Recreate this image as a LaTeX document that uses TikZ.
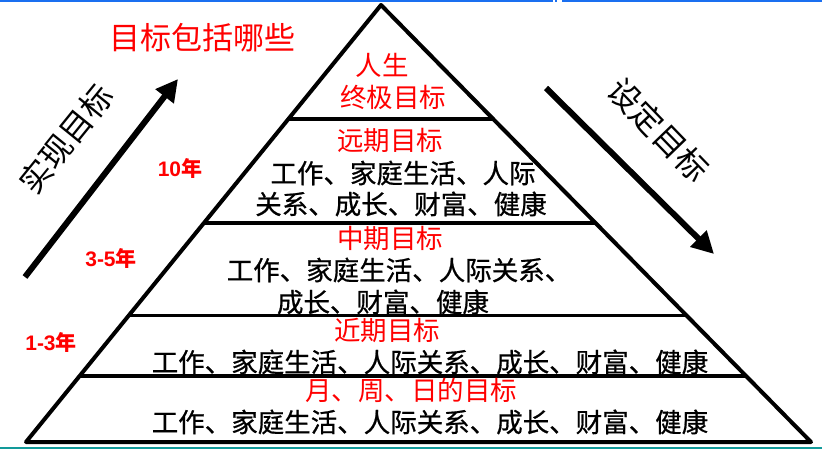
\documentclass[tikz,border=0pt]{standalone}
\usepackage{fontspec}
\setmainfont{Liberation Sans}
\newfontfamily\cjk{Noto Sans CJK SC}
\newfontfamily\cjkh[FakeBold=0.7]{Noto Sans CJK SC}
\usetikzlibrary{arrows.meta,calc}
\definecolor{goalred}{HTML}{FF0000}
\definecolor{slideblue}{HTML}{1A6FF0}
\definecolor{slideteal}{HTML}{129A9A}

\begin{document}
\begin{tikzpicture}[x=1pt,y=-1pt,>=Latex]
\tikzset{
title/.style={font=\cjk\fontsize{31}{31}\selectfont,text=goalred,inner sep=0pt},
tier/.style={font=\cjk\fontsize{26.5}{26.5}\selectfont,text=goalred,inner sep=0pt},
body/.style={font=\cjkh\fontsize{26.5}{26.5}\selectfont,inner sep=0pt},
years/.style={font=\fontsize{21}{21}\selectfont\bfseries,text=goalred,inner sep=0pt},
side/.style={font=\cjk\fontsize{32}{32}\selectfont,inner sep=0pt},
edge/.style={line width=4pt,line cap=round,line join=round},
big/.style={->,line width=6pt,>={Triangle[length=22pt,width=22pt]}}}
\useasboundingbox (0,0) rectangle (822,450);

% slide rules at the top and bottom of the screenshot
\draw[slideblue,line width=2pt] (0,1) -- (553,1) (555,1) -- (557,1) (562,1) -- (822,1);
\draw[slideteal,line width=2.5pt] (0,448) -- (822,448);

% pyramid
\coordinate (apex) at (381,5);
\coordinate (bl) at (26,442);
\coordinate (br) at (811,442);
\draw[edge] (apex) -- (bl) -- (br) -- cycle;
\foreach \t/\w in {0.260/4pt,0.498/4pt,0.710/3.5pt,0.849/3.5pt}
  \draw[line width=\w] ($(apex)!\t!(bl)$) -- ($(apex)!\t!(br)$);

\node[title] (head) at (202,38) {目标包括哪些};

\node[tier] (life1) at (382,65) {人生};
\node[tier] (life2) at (393,97) {终极目标};

\node[tier] (far) at (390,140) {远期目标};
\node[body] (far1) at (403,173) {工作、家庭生活、人际};
\node[body] (far2) at (401,204) {关系、成长、财富、健康};

\node[tier] (mid) at (390,238) {中期目标};
\node[body] (mid1) at (399,270) {工作、家庭生活、人际关系、};
\node[body] (mid2) at (383,302) {成长、财富、健康};

\node[tier] (near) at (387,330) {近期目标};
\node[body] (near1) at (430,362) {工作、家庭生活、人际关系、成长、财富、健康};

\node[tier] (day) at (411,390) {月、周、日的目标};
\node[body] (day1) at (430,422) {工作、家庭生活、人际关系、成长、财富、健康};

\node[years] (y10) at (180,168) {10{\cjk 年}};
\node[years] (y35) at (111,258) {3-5{\cjk 年}};
\node[years] (y13) at (51,342) {1-3{\cjk 年}};

% direction arrows
\coordinate (upA) at (25,277);
\coordinate (upB) at (178,79);
\coordinate (downA) at (546,88);
\coordinate (downB) at (714,254);
\draw[big] (upA) -- (upB);
\draw[big] (downA) -- (downB);
\node[side,rotate=51] (reach) at (66,139) {实现目标};
\node[side,rotate=-46] (setg) at (659,130) {设定目标};
\end{tikzpicture}
\end{document}
